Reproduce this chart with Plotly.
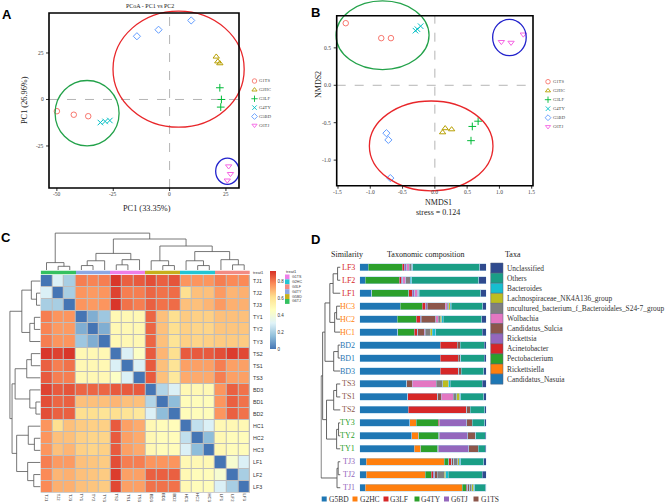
import plotly.graph_objects as go

W, H = 666, 504
def fx(p): return p / W
def fy(p): return 1 - p / H
SERIF = "Liberation Serif"
SANS = "Liberation Sans"

# ---------------- data: panels A & B ----------------
group_names = ["G1TS", "G2HC", "G3LF", "G4TY", "G5BD", "G6TJ"]
group_colors = ["#F8766D", "#B79F00", "#00BA38", "#00BFC4", "#619CFF", "#F564E3"]
group_symbols = ["circle-open", "triangle-up-open", "cross-thin-open",
                 "x-thin-open", "diamond-open", "triangle-down-open"]
sample_group = [0, 0, 0, 1, 1, 1, 2, 2, 2, 3, 3, 3, 4, 4, 4, 5, 5, 5]

pcoa_pc1 = [-50.0, -42.5, -36.1, 20.7, 21.4, 22.3, 22.3, 23.0, 22.7,
            -30.7, -28.6, -26.5, -14.5, -4.9, 9.6, 26.2, 27.0, 25.6]
pcoa_pc2 = [-6.3, -8.2, -9.0, 23.0, 20.4, 19.4, 6.3, 0.0, -4.1,
            -12.4, -11.8, -11.3, 34.0, 37.5, 42.5, -35.9, -40.0, -43.5]
nmds1 = [-1.38, -0.83, -0.68, 0.12, 0.16, 0.26, 0.58, 0.67, 0.56,
         -0.30, -0.27, -0.22, -0.75, -0.72, -0.69, 1.03, 1.18, 1.37]
nmds2 = [0.83, 0.63, 0.63, -0.63, -0.575, -0.59, -0.55, -0.48, -0.74,
         0.73, 0.75, 0.79, -0.64, -0.73, -1.24, 0.58, 0.57, 0.68]

ellipse_colors = ["#E8262A", "#23A24A", "#2222CC"]
pcoa_ell_cx = [4.0, -36.6, 25.65]
pcoa_ell_cy = [16.3, -7.35, -38.6]
pcoa_ell_rx = [29.1, 14.2, 5.2]
pcoa_ell_ry = [31.2, 17.55, 7.05]
nmds_ell_cx = [-0.057, -0.81, 1.155]
nmds_ell_cy = [-0.81, 0.668, 0.639]
nmds_ell_rx = [0.957, 0.72, 0.26]
nmds_ell_ry = [0.60, 0.459, 0.243]

pcoa_xticks = [-50, -25, 0, 25]
pcoa_yticks = [-25, 0, 25]
nmds_xticks = [-1.5, -1.0, -0.5, 0.0, 0.5, 1.0, 1.5]
nmds_yticks = [-1.0, -0.5, 0.0, 0.5]

# ---------------- data: panel C ----------------
heat_labels = ["TJ1", "TJ2", "TJ3", "TY1", "TY2", "TY3", "TS2", "TS1", "TS3",
               "BD3", "BD1", "BD2", "HC1", "HC2", "HC3", "LF1", "LF2", "LF3"]
heat_col_group = [5, 5, 5, 3, 3, 3, 0, 0, 0, 4, 4, 4, 1, 1, 1, 2, 2, 2]
treat_colors = ["#EE7FE8", "#22C5D3", "#F28B84", "#8EA8E4", "#C6AF1C", "#34C160"]
heat_z = [
    [0, .30, .20, .80, .79, .80, .92, .85, .86, .88, .85, .87, .76, .76, .76, .80, .78, .78],
    [.30, 0, .20, .76, .75, .76, .90, .80, .80, .84, .82, .83, .62, .68, .68, .75, .70, .71],
    [.20, .20, 0, .76, .75, .76, .92, .82, .80, .85, .82, .83, .68, .68, .70, .75, .71, .71],
    [.80, .76, .76, 0, .12, .18, .50, .50, .50, .84, .68, .62, .66, .65, .65, .68, .68, .68],
    [.79, .75, .75, .12, 0, .12, .50, .50, .50, .84, .68, .62, .65, .64, .64, .67, .67, .67],
    [.80, .76, .76, .18, .12, 0, .50, .50, .50, .84, .68, .60, .65, .64, .65, .66, .66, .66],
    [.92, .90, .92, .50, .50, .50, 0, .30, .45, .86, .70, .62, .86, .86, .86, .88, .91, .89],
    [.85, .80, .82, .50, .50, .50, .30, 0, .30, .86, .68, .60, .74, .74, .74, .80, .74, .74],
    [.86, .80, .80, .50, .50, .50, .45, .30, 0, .86, .68, .58, .72, .72, .72, .80, .74, .74],
    [.90, .86, .87, .84, .84, .84, .86, .86, .86, 0, .22, .30, .50, .50, .50, .76, .85, .82],
    [.88, .84, .85, .68, .68, .68, .70, .68, .68, .22, 0, .15, .48, .48, .48, .76, .85, .82],
    [.88, .85, .85, .62, .62, .60, .62, .60, .58, .30, .15, 0, .48, .48, .48, .76, .85, .82],
    [.76, .62, .68, .66, .65, .65, .86, .74, .72, .50, .48, .48, 0, .25, .30, .50, .50, .50],
    [.76, .68, .68, .65, .64, .64, .86, .74, .72, .50, .48, .48, .25, 0, .15, .50, .48, .48],
    [.76, .68, .70, .65, .64, .65, .86, .74, .72, .50, .48, .48, .30, .15, 0, .50, .48, .48],
    [.80, .75, .75, .68, .67, .66, .88, .80, .80, .76, .76, .76, .50, .50, .50, 0, .42, .30],
    [.78, .70, .71, .68, .67, .66, .91, .74, .74, .85, .85, .85, .50, .48, .48, .42, 0, .20],
    [.78, .71, .71, .68, .67, .66, .89, .74, .74, .82, .82, .82, .50, .48, .48, .30, .20, 0],
]
heat_colors = ["#4575B4", "#91BFDB", "#E0F3F8", "#FFFFBF", "#FEE090", "#FC8D59", "#D73027"]
heat_zmax = 0.93
colorbar_ticks = [0, 0.2, 0.4, 0.6, 0.8]
heat_row_tree = (((0, (1, 2, 0.13), 0.30), ((3, 4, 0.20), 5, 0.35), 0.61),
                 ((((6, 7, 0.30), 8, 0.45), (9, (10, 11, 0.15), 0.35), 0.83),
                  ((12, (13, 14, 0.20), 0.40), (15, (16, 17, 0.22), 0.42), 0.78), 0.93), 1.0)
heat_col_tree = ((0, (1, 2, 0.10), 0.20),
                 ((((3, 4, 0.12), 5, 0.25), ((6, 7, 0.14), 8, 0.28), 0.45),
                  ((9, (10, 11, 0.12), 0.25),
                   ((12, (13, 14, 0.12), 0.25), (15, (16, 17, 0.14), 0.28), 0.50), 0.65), 0.84), 1.0)

# ---------------- data: panel D ----------------
bar_samples = ["LF3", "LF2", "LF1", "HC3", "HC2", "HC1", "BD2", "BD1", "BD3",
               "TS3", "TS1", "TS2", "TY3", "TY2", "TY1", "TJ3", "TJ2", "TJ1"]
label_prefixes = ["LF", "HC", "BD", "TS", "TY", "TJ"]
label_colors = ["#D62728", "#FF7F0E", "#1F77B4", "#8C564B", "#2CA02C", "#9467BD"]
taxa_names = ["Candidatus_Nasuia", "Rickettsiella", "Pectobacterium", "Acinetobacter",
              "Rickettsia", "Candidatus_Sulcia", "Wolbachia",
              "uncultured_bacterium_f_Bacteroidales_S24-7_group",
              "Lachnospiraceae_NK4A136_group", "Bacteroides", "Others", "Unclassified"]
taxa_colors = ["#1F77B4", "#FF7F0E", "#2CA02C", "#D62728", "#9467BD", "#8C564B",
               "#E377C2", "#7F7F7F", "#BCBD22", "#17BECF", "#1A9E86", "#2F4A8E"]
nasuia = [6.6, 4.5, 9.7, 32.1, 29.7, 30.0, 63.7, 63.7, 63.7, 36.8, 37.9, 38.4, 39.5, 41.3, 42.9, 5.3, 5.3, 4.2]
rickettsiella = [0, 0, 0, 0, 0, 0, 0, 0, 0, 0, 0, 0, 5.0, 5.5, 5.5, 61.3, 46.6, 76.8]
pectobacterium = [27.1, 26.6, 29.2, 17.4, 15.0, 13.2, 0, 0, 0, 0, 0, 0, 17.6, 15.8, 13.4, 3.9, 4.5, 3.2]
acinetobacter = [1.6, 1.8, 2.6, 2.6, 3.2, 2.1, 13.4, 14.2, 14.7, 0.5, 23.9, 46.3, 1.0, 0.8, 0.8, 2.1, 1.6, 1.0]
rickettsia = [1.3, 1.0, 2.1, 1.3, 0.8, 0.5, 0, 0, 0, 0, 0, 0, 21.6, 22.1, 23.7, 0, 1.3, 0]
sulcia = [0.5, 0, 0, 14.2, 11.3, 5.3, 2.4, 2.1, 1.8, 4.2, 2.6, 2.6, 4.2, 6.1, 7.4, 1.6, 2.1, 1.6]
wolbachia = [2.0, 2.4, 2.1, 1.6, 2.1, 0.8, 0, 0, 0, 18.9, 9.5, 0, 0, 0, 0, 0, 0, 0]
uncultured = [2.0, 3.7, 1.0, 1.3, 1.6, 3.9, 0, 0, 0, 5.3, 2.6, 0, 0, 0, 0, 3.4, 5.3, 1.6]
lachno = [0.3, 0, 0, 1.0, 1.0, 1.6, 0, 0, 0, 4.7, 2.6, 0, 0, 0, 0, 1.0, 1.3, 1.6]
bacteroides = [0.5, 1.3, 0.4, 0.8, 1.3, 2.6, 0, 0, 0, 1.0, 0.8, 0, 0, 0, 0, 1.3, 2.1, 0.8]
others = [52.8, 52.6, 48.4, 25.0, 30.5, 36.6, 18.7, 18.4, 17.9, 25.3, 18.2, 11.6, 9.7, 7.4, 5.3, 18.2, 26.8, 8.7]
unclassified = [5.3, 6.0, 4.5, 2.6, 3.4, 3.4, 1.8, 1.6, 1.9, 3.2, 1.8, 1.1, 1.3, 1.0, 1.0, 1.8, 3.2, 0.5]
taxa_values = [nasuia, rickettsiella, pectobacterium, acinetobacter, rickettsia, sulcia,
               wolbachia, uncultured, lachno, bacteroides, others, unclassified]
sim_tree = ((((((0, 1, 0.15), 2, 0.38), ((3, 4, 0.20), 5, 0.30), 0.55), ((6, 7, 0.12), 8, 0.35), 0.80),
             (((9, 10, 0.20), 11, 0.35), ((12, 13, 0.10), 14, 0.20), 0.72), 0.92),
            ((15, 16, 0.12), 17, 0.18), 1.0)
bottom_legend_names = ["G5BD", "G2HC", "G3LF", "G4TY", "G6TJ", "G1TS"]
bottom_legend_colors = ["#1F77B4", "#FF7F0E", "#D62728", "#2CA02C", "#9467BD", "#8C564B"]

# ---------------- helpers ----------------
fig = go.Figure()
shapes, annotations, axes = [], [], {}

def ann(text, x, y, size, family=SERIF, color="#222", xanchor="center",
        yanchor="middle", angle=0):
    annotations.append(dict(text=text, x=fx(x), y=fy(y), xref="paper", yref="paper",
                            showarrow=False, xanchor=xanchor, yanchor=yanchor,
                            textangle=angle, borderpad=0,
                            font=dict(family=family, size=size, color=color)))

def tick_str(v):
    return ("%d" % v) if isinstance(v, int) else ("%.1f" % v)

def dendro(node, pos, hts):
    if isinstance(node, int):
        return float(node), 0.0
    left, right, h = node
    pl, hl = dendro(left, pos, hts)
    pr, hr = dendro(right, pos, hts)
    pos += [pl, pl, pr, pr, None]
    hts += [hl, h, h, hr, None]
    return (pl + pr) / 2, h

def frame_panel(n, frame_px, frame_data, dom_px, xticks, yticks, xs, ys, ell):
    L, R, T, B = frame_px
    x0, x1, y0, y1 = frame_data
    sx = (R - L) / (x1 - x0)
    sy = (B - T) / (y1 - y0)
    dL, dR, dT, dB = dom_px
    xr = [x0 - (L - dL) / sx, x1 + (dR - R) / sx]
    yr = [y0 - (dB - B) / sy, y1 + (T - dT) / sy]
    sfx = "" if n == 1 else str(n)
    xa, ya = "x" + sfx, "y" + sfx
    axes["xaxis" + sfx] = dict(domain=[fx(dL), fx(dR)], range=xr, anchor=ya,
                               showgrid=False, zeroline=False, showticklabels=False,
                               showline=False, ticks="")
    axes["yaxis" + sfx] = dict(domain=[fy(dB), fy(dT)], range=yr, anchor=xa,
                               showgrid=False, zeroline=False, showticklabels=False,
                               showline=False, ticks="")
    for v in xticks:
        px_ = L + (v - x0) * sx
        shapes.append(dict(type="line", xref="paper", yref="paper", x0=fx(px_), x1=fx(px_),
                           y0=fy(B), y1=fy(B + 3), line=dict(color="#333", width=1)))
        ann(tick_str(v), px_, B + 6.5, 5.5, color="#444")
    for v in yticks:
        py_ = B - (v - y0) * sy
        shapes.append(dict(type="line", xref="paper", yref="paper", x0=fx(L - 3), x1=fx(L),
                           y0=fy(py_), y1=fy(py_), line=dict(color="#333", width=1)))
        ann(tick_str(v), L - 4.5, py_, 5.5, color="#444", xanchor="right")
    shapes.append(dict(type="line", xref=xa, yref=ya, x0=x0, x1=x1, y0=0, y1=0,
                       line=dict(color="#B5B5B5", width=1, dash="dash"), layer="below"))
    shapes.append(dict(type="line", xref=xa, yref=ya, x0=0, x1=0, y0=y0, y1=y1,
                       line=dict(color="#B5B5B5", width=1, dash="dash"), layer="below"))
    cx, cy, rx, ry = ell
    for k in range(len(cx)):
        shapes.append(dict(type="circle", xref=xa, yref=ya,
                           x0=cx[k] - rx[k], x1=cx[k] + rx[k],
                           y0=cy[k] - ry[k], y1=cy[k] + ry[k],
                           line=dict(color=ellipse_colors[k], width=1.3)))
    shapes.append(dict(type="rect", xref="paper", yref="paper", x0=fx(L), x1=fx(R),
                       y0=fy(B), y1=fy(T), line=dict(color="black", width=1.6)))
    for g in range(6):
        idx = [i for i, s in enumerate(sample_group) if s == g]
        fig.add_trace(go.Scatter(
            x=[xs[i] for i in idx], y=[ys[i] for i in idx], mode="markers",
            xaxis=xa, yaxis=ya, hoverinfo="skip",
            marker=dict(symbol=group_symbols[g], color=group_colors[g], size=5.5,
                        line=dict(width=1, color=group_colors[g]))))

# ---------------- Panel A ----------------
frame_panel(1, (49, 239, 13, 188), (-53.5, 30.8, -47.6, 46.5), (45, 250, 4, 193),
            pcoa_xticks, pcoa_yticks, pcoa_pc1, pcoa_pc2,
            (pcoa_ell_cx, pcoa_ell_cy, pcoa_ell_rx, pcoa_ell_ry))
ann("PCoA - PC1 vs PC2", 150, 6, 6)
ann("PC1 (33.35%)", 147, 208.5, 8.3)
ann("PC1 (26.96%)", 25, 100, 8.3, angle=-90)
ann("<b>A</b>", 7, 14, 13, family=SANS, color="black")

# ---------------- Panel B ----------------
frame_panel(2, (336.7, 533, 15.7, 185.7), (-1.52, 1.52, -1.342, 0.93), (333, 540, 0, 194),
            nmds_xticks, nmds_yticks, nmds1, nmds2,
            (nmds_ell_cx, nmds_ell_cy, nmds_ell_rx, nmds_ell_ry))
ann("NMDS1", 438, 202.5, 8)
ann("stress = 0.124", 438, 212.5, 8)
ann("NMDS2", 318, 85, 8, angle=-90)
ann("<b>B</b>", 315, 12.7, 13, family=SANS, color="black")

axes["xaxis9"] = dict(domain=[0, 1], range=[0, W], visible=False, anchor="y9")
axes["yaxis9"] = dict(domain=[0, 1], range=[H, 0], visible=False, anchor="x9")
for (lx, ly0, step) in [(254.5, 81, 8.87), (548, 81.7, 9.0)]:
    for g in range(6):
        fig.add_trace(go.Scatter(
            x=[lx], y=[ly0 + step * g], mode="markers", xaxis="x9", yaxis="y9",
            hoverinfo="skip",
            marker=dict(symbol=group_symbols[g], color=group_colors[g], size=4.5,
                        line=dict(width=0.9, color=group_colors[g]))))
        ann(group_names[g], lx + 3.8, ly0 + step * g, 4.6, color="#444", xanchor="left")

# ---------------- Panel C ----------------
HL, HR, HT, HB = 40.7, 250, 275, 492.7
cs = [[i / (len(heat_colors) - 1), c] for i, c in enumerate(heat_colors)]
fig.add_trace(go.Heatmap(
    z=heat_z, x=list(range(18)), y=list(range(18)), xaxis="x3", yaxis="y3",
    colorscale=cs, zmin=0, zmax=heat_zmax, xgap=1, ygap=1, hoverinfo="skip",
    colorbar=dict(x=fx(270), xanchor="left", y=fy(349), yanchor="bottom",
                  len=(349 - 270.7) / H, lenmode="fraction", thickness=6,
                  thicknessmode="pixels", outlinewidth=0, xpad=0, ypad=0,
                  tickvals=colorbar_ticks, ticktext=[("%g" % v) for v in colorbar_ticks],
                  ticks="", tickfont=dict(family=SANS, size=4.5, color="#333"))))
axes["xaxis3"] = dict(domain=[fx(HL), fx(HR)], range=[-0.5, 17.5], anchor="y3",
                      showticklabels=False, ticks="", showgrid=False, zeroline=False,
                      showline=False)
axes["yaxis3"] = dict(domain=[fy(HB), fy(HT)], range=[17.5, -0.5], anchor="x3",
                      showticklabels=False, ticks="", showgrid=False, zeroline=False,
                      showline=False)
for i, lab in enumerate(heat_labels):
    annotations.append(dict(text=lab, x=fx(252), y=i, xref="paper", yref="y3",
                            showarrow=False, xanchor="left", yanchor="middle", borderpad=0,
                            font=dict(family=SANS, size=5.3, color="#333")))
    annotations.append(dict(text=lab, x=i, y=fy(497.8), xref="x3", yref="paper",
                            showarrow=False, xanchor="center", yanchor="middle", borderpad=0,
                            textangle=90, font=dict(family=SANS, size=4.2, color="#333")))
shapes.append(dict(type="rect", xref="paper", yref="paper", x0=fx(HL), x1=fx(HR),
                   y0=fy(HB), y1=fy(HT), fillcolor="#BDBDBD", line=dict(width=0),
                   layer="below"))
ann_cs = []
for i, c in enumerate(treat_colors):
    ann_cs += [[i / 6, c], [(i + 1) / 6, c]]
fig.add_trace(go.Heatmap(
    z=[heat_col_group], x=list(range(18)), y=[0], xaxis="x4", yaxis="y4",
    colorscale=ann_cs, zmin=-0.5, zmax=5.5, showscale=False, hoverinfo="skip"))
axes["xaxis4"] = dict(domain=[fx(HL), fx(HR)], range=[-0.5, 17.5], anchor="y4", visible=False)
axes["yaxis4"] = dict(domain=[fy(274.5), fy(270.5)], range=[-0.5, 0.5], anchor="x4",
                      visible=False)
ann("treat1", 252, 272.5, 4, family=SANS, color="#333", xanchor="left")
pos, hts = [], []
dendro(heat_col_tree, pos, hts)
fig.add_trace(go.Scatter(x=pos, y=hts, mode="lines", xaxis="x5", yaxis="y5",
                         line=dict(color="#555", width=0.8), hoverinfo="skip"))
axes["xaxis5"] = dict(domain=[fx(HL), fx(HR)], range=[-0.5, 17.5], anchor="y5", visible=False)
axes["yaxis5"] = dict(domain=[fy(270), fy(232)], range=[0, 1.03], anchor="x5", visible=False)
pos, hts = [], []
dendro(heat_row_tree, pos, hts)
fig.add_trace(go.Scatter(x=hts, y=pos, mode="lines", xaxis="x6", yaxis="y6",
                         line=dict(color="#555", width=0.8), hoverinfo="skip"))
axes["xaxis6"] = dict(domain=[fx(9), fx(40.5)], range=[1.03, 0], anchor="y6", visible=False)
axes["yaxis6"] = dict(domain=[fy(HB), fy(HT)], range=[17.5, -0.5], anchor="x6", visible=False)
ann("treat1", 285, 271.3, 4, family=SANS, color="#333", xanchor="left")
for g in range(6):
    y0 = 274.5 + 4.9 * g
    shapes.append(dict(type="rect", xref="paper", yref="paper", x0=fx(285), x1=fx(289.5),
                       y0=fy(y0 + 4.9), y1=fy(y0), fillcolor=treat_colors[g],
                       line=dict(width=0)))
    ann(group_names[g], 290.5, y0 + 2.45, 3.6, family=SANS, color="#333", xanchor="left")
ann("<b>C</b>", 6, 237.5, 13, family=SANS, color="black")

# ---------------- Panel D ----------------
DL, DR, DT, DB = 359.7, 486.3, 260.8, 494.2
for k, name in enumerate(taxa_names):
    fig.add_trace(go.Bar(
        x=taxa_values[k], y=list(range(18)), orientation="h", xaxis="x7", yaxis="y7",
        width=0.54, marker=dict(color=taxa_colors[k], line=dict(color="#A9CDE6", width=0.5)),
        hoverinfo="skip", name=name))
axes["xaxis7"] = dict(domain=[fx(DL), fx(DR)], range=[0, 100], anchor="y7", visible=False)
axes["yaxis7"] = dict(domain=[fy(DB), fy(DT)], range=[17.5, -0.5], anchor="x7", visible=False)
for i, s in enumerate(bar_samples):
    annotations.append(dict(text=s, x=fx(355.5), y=i, xref="paper", yref="y7",
                            showarrow=False, xanchor="right", yanchor="middle", borderpad=0,
                            font=dict(family=SERIF, size=8,
                                      color=label_colors[label_prefixes.index(s[:2])])))
pos, hts = [], []
dendro(sim_tree, pos, hts)
fig.add_trace(go.Scatter(x=hts, y=pos, mode="lines", xaxis="x8", yaxis="y8",
                         line=dict(color="#555", width=0.9), hoverinfo="skip"))
axes["xaxis8"] = dict(domain=[fx(320.5), fx(340.5)], range=[1.03, 0], anchor="y8", visible=False)
axes["yaxis8"] = dict(domain=[fy(DB), fy(DT)], range=[17.5, -0.5], anchor="x8", visible=False)

ann("Similarity", 347, 254, 8)
ann("Taxonomic composition", 425, 254, 8)
ann("Taxa", 513, 254, 8)
ann("<b>D</b>", 315, 239, 13, family=SANS, color="black")
for j, k in enumerate(range(len(taxa_names) - 1, -1, -1)):
    y0 = 263 + 10.1 * j
    shapes.append(dict(type="rect", xref="paper", yref="paper", x0=fx(490.7), x1=fx(503),
                       y0=fy(y0 + 10.1), y1=fy(y0), fillcolor=taxa_colors[k],
                       line=dict(color="#56607A", width=0.5)))
    ann(taxa_names[k], 506, y0 + 5.05, 7.4, color="#333", xanchor="left")
legend_x = [321.7, 352.5, 383.5, 414.5, 444, 473.5]
for g, name in enumerate(bottom_legend_names):
    x0 = legend_x[g]
    shapes.append(dict(type="rect", xref="paper", yref="paper", x0=fx(x0), x1=fx(x0 + 5),
                       y0=fy(501.5), y1=fy(496.5), fillcolor=bottom_legend_colors[g],
                       line=dict(width=0)))
    ann(name, x0 + 6, 499, 7.5, color="#333", xanchor="left")

fig.update_layout(
    width=W, height=H, autosize=False, showlegend=False, barmode="stack",
    margin=dict(l=0, r=0, t=0, b=0), paper_bgcolor="white", plot_bgcolor="rgba(0,0,0,0)",
    shapes=shapes, annotations=annotations, **axes)
fig.write_html("out.html", config={"displayModeBar": False},
               post_script="document.body.style.margin='0px';document.body.style.overflow='hidden';")
